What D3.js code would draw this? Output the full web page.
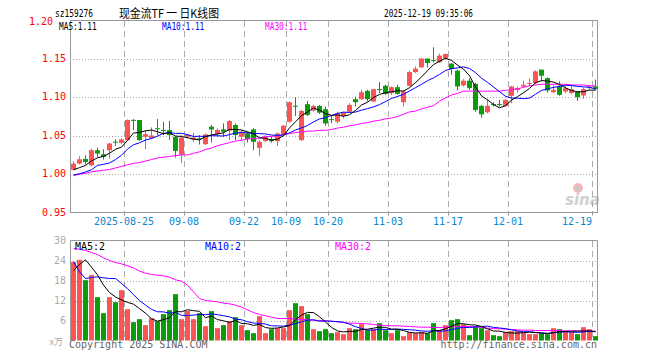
<!DOCTYPE html>
<html>
<head>
<meta charset="utf-8">
<script src="https://cdn.jsdelivr.net/npm/d3@7"></script>
<style>
  body { margin: 0; background: #fff; }
  svg { display: block; }
</style>
</head>
<body>
<div id="chart"></div>
<script>
// Trading days shown on the chart
const dates = [
  "2025-08-12","2025-08-13","2025-08-14","2025-08-15","2025-08-18","2025-08-19","2025-08-20","2025-08-21","2025-08-22",
  "2025-08-25","2025-08-26","2025-08-27","2025-08-28","2025-08-29",
  "2025-09-01","2025-09-02","2025-09-03","2025-09-04","2025-09-05",
  "2025-09-08","2025-09-09","2025-09-10","2025-09-11","2025-09-12",
  "2025-09-15","2025-09-16","2025-09-17","2025-09-18","2025-09-19",
  "2025-09-22","2025-09-23","2025-09-24","2025-09-25","2025-09-26",
  "2025-09-29","2025-09-30",
  "2025-10-09","2025-10-10",
  "2025-10-13","2025-10-14","2025-10-15","2025-10-16","2025-10-17",
  "2025-10-20","2025-10-21","2025-10-22","2025-10-23","2025-10-24",
  "2025-10-27","2025-10-28","2025-10-29","2025-10-30","2025-10-31",
  "2025-11-03","2025-11-04","2025-11-05","2025-11-06","2025-11-07",
  "2025-11-10","2025-11-11","2025-11-12","2025-11-13","2025-11-14",
  "2025-11-17","2025-11-18","2025-11-19","2025-11-20","2025-11-21",
  "2025-11-24","2025-11-25","2025-11-26","2025-11-27","2025-11-28",
  "2025-12-01","2025-12-02","2025-12-03","2025-12-04","2025-12-05",
  "2025-12-08","2025-12-09","2025-12-10","2025-12-11","2025-12-12",
  "2025-12-15","2025-12-16","2025-12-17","2025-12-18","2025-12-19"
];

const opens = [
  1.0057,1.0136,1.0197,1.0114,1.0311,1.0258,1.0311,1.0422,1.0407,1.0442,
  1.0706,1.0704,1.0486,1.0468,1.0597,1.0575,1.0573,1.0486,1.0254,1.0486,
  1.0451,1.0466,1.0390,1.0617,1.0521,1.0582,1.0564,1.0639,1.0486,1.0529,
  1.0582,1.0342,1.0429,1.0455,1.0429,1.0521,1.0682,1.0890,1.0442,1.0910,
  1.0827,1.0888,1.0844,1.0715,1.0682,1.0757,1.0813,1.0975,1.0975,1.1084,
  1.0945,1.1108,1.1150,1.1054,1.1132,1.0936,1.1150,1.1329,1.1390,1.1504,
  1.1484,1.1456,1.1504,1.1438,1.1347,1.1154,1.1216,1.1176,1.0888,1.0805,
  1.0912,1.0912,1.0888,1.1019,1.1097,1.1141,1.1183,1.1185,1.1360,1.1250,
  1.1067,1.1141,1.1076,1.1054,1.1076,1.1023,1.1119,1.1141
];
const highs = [
  1.0167,1.0232,1.0245,1.0333,1.0342,1.0324,1.0407,1.0455,1.0464,1.0713,
  1.0717,1.0706,1.0573,1.0608,1.0717,1.0682,1.0691,1.0490,1.0508,1.0521,
  1.0538,1.0508,1.0529,1.0639,1.0595,1.0660,1.0704,1.0660,1.0573,1.0551,
  1.0595,1.0442,1.0508,1.0486,1.0542,1.0639,1.0945,1.1001,1.0835,1.0953,
  1.0901,1.0901,1.0879,1.0770,1.0813,1.0813,1.0923,1.1010,1.1097,1.1097,
  1.1106,1.1198,1.1163,1.1141,1.1163,1.1097,1.1347,1.1403,1.1513,1.1504,
  1.1652,1.1569,1.1569,1.1447,1.1360,1.1237,1.1250,1.1185,1.0901,1.0975,
  1.0936,1.0967,1.0975,1.1150,1.1141,1.1216,1.1242,1.1351,1.1360,1.1259,
  1.1154,1.1207,1.1150,1.1150,1.1076,1.1128,1.1154,1.1229
];
const lows = [
  1.0049,1.0127,1.0127,1.0101,1.0224,1.0189,1.0202,1.0368,1.0390,1.0433,
  1.0573,1.0433,1.0324,1.0455,1.0508,1.0508,1.0442,1.0215,1.0145,1.0464,
  1.0420,1.0385,1.0377,1.0411,1.0486,1.0486,1.0442,1.0442,1.0442,1.0411,
  1.0311,1.0237,1.0420,1.0411,1.0368,1.0508,1.0669,1.0757,1.0433,1.0757,
  1.0813,1.0783,1.0630,1.0660,1.0660,1.0726,1.0800,1.0879,1.0967,1.0945,
  1.0936,1.1054,1.1032,1.1032,1.1032,1.0879,1.1141,1.1316,1.1382,1.1390,
  1.1456,1.1447,1.1491,1.1294,1.1089,1.1141,1.1097,1.0813,1.0735,1.0792,
  1.0879,1.0879,1.0879,1.0923,1.1063,1.1128,1.1150,1.1172,1.1207,1.1063,
  1.1054,1.1019,1.1054,1.1045,1.0953,1.0980,1.1097,1.1097
];
const closes = [
  1.0136,1.0193,1.0158,1.0311,1.0267,1.0224,1.0398,1.0418,1.0451,1.0704,
  1.0700,1.0442,1.0521,1.0503,1.0593,1.0571,1.0508,1.0302,1.0477,1.0512,
  1.0477,1.0462,1.0516,1.0582,1.0573,1.0551,1.0691,1.0508,1.0551,1.0455,
  1.0420,1.0420,1.0486,1.0429,1.0529,1.0630,1.0936,1.0886,1.0822,1.0770,
  1.0888,1.0800,1.0660,1.0711,1.0792,1.0800,1.0901,1.0936,1.1067,1.0975,
  1.1106,1.1104,1.1045,1.1132,1.1045,1.1076,1.1329,1.1373,1.1504,1.1447,
  1.1480,1.1543,1.1565,1.1368,1.1141,1.1216,1.1119,1.0835,1.0778,1.0888,
  1.0908,1.0908,1.0967,1.1141,1.1119,1.1163,1.1187,1.1338,1.1281,1.1089,
  1.1097,1.1032,1.1119,1.1106,1.1001,1.1106,1.1141,1.1106
];

// Moving averages before enough days are on screen
const ma5Lead = [1.0057, 1.0084, 1.0114, 1.0171];
const ma10Lead = [0.9988, 1.0005, 1.0027, 1.0057, 1.0114, 1.0127, 1.0145, 1.0189, 1.0245];
const ma30 = [
  0.998,1.000,1.001,1.003,1.004,1.005,1.006,1.008,1.010,1.012,
  1.014,1.015,1.017,1.019,1.021,1.022,1.023,1.024,1.025,1.025,
  1.027,1.029,1.032,1.034,1.037,1.039,1.041,1.043,1.044,1.046,
  1.046,1.047,1.049,1.049,1.050,1.051,1.053,1.054,1.055,1.056,
  1.056,1.057,1.057,1.058,1.060,1.061,1.063,1.064,1.066,1.067,
  1.069,1.070,1.072,1.073,1.075,1.078,1.081,1.082,1.085,1.087,
  1.089,1.095,1.099,1.103,1.105,1.108,1.108,1.108,1.108,1.108,
  1.108,1.108,1.109,1.110,1.111,1.113,1.115,1.116,1.117,1.117,
  1.117,1.117,1.117,1.116,1.116,1.116,1.115,1.115
];

// Volume, in 万
const volumes = [
  23.6,24.2,18.1,19.6,13.0,8.2,13.0,11.5,15.1,9.4,
  5.5,6.4,4.6,6.7,5.8,7.9,9.1,13.9,6.4,8.9,
  6.4,8.2,4.3,8.8,3.7,4.6,5.8,7.0,4.6,3.1,
  2.2,7.3,2.2,3.4,3.7,3.7,9.1,11.2,10.3,7.9,
  3.4,2.8,3.4,2.2,2.5,1.9,3.7,3.4,4.9,3.1,
  3.4,5.2,3.1,2.2,3.1,1.3,2.5,2.2,2.5,2.2,
  5.2,3.1,4.6,6.1,6.4,4.9,1.6,4.3,3.7,3.1,
  1.6,1.3,2.5,2.8,2.8,2.5,1.9,1.9,2.2,1.9,
  3.7,3.4,2.5,2.5,1.9,4.0,3.4,1.3
];
const volMa5Lead = [21.0, 22.8, 24.2, 22.0];
const volMa10Lead = [23.6, 20.6, 18.6, 18.9, 19.1, 18.8, 18.6, 18.6, 17.1];
const volMa30 = [
  27.6,27.4,27.0,26.4,25.8,24.8,24.0,23.4,23.0,22.4,
  21.8,20.8,20.2,19.8,19.6,19.4,19.0,18.2,17.8,16.6,
  14.6,12.6,12.0,11.8,11.6,11.2,11.0,10.6,10.0,9.2,
  8.4,7.8,7.4,7.0,6.6,6.6,6.6,6.4,6.4,6.2,
  6.1,6.0,5.9,5.8,5.6,5.4,5.2,5.2,5.1,5.0,
  4.8,4.6,4.5,4.4,4.4,4.3,4.2,4.1,4.0,4.0,
  3.9,3.9,4.0,4.1,4.2,4.2,4.2,4.1,3.9,3.7,
  3.6,3.5,3.4,3.3,3.2,3.1,3.1,3.0,3.0,3.0,
  3.0,3.0,2.9,2.9,2.9,2.9,2.9,2.8
];

// Axis ticks and labels
const tickDates = ["2025-08-25","2025-09-08","2025-09-22","2025-10-09","2025-10-20","2025-11-03","2025-11-17","2025-12-01","2025-12-19"];
const tickLabels = ["2025-08-25","09-08","09-22","10-09","10-20","11-03","11-17","12-01","12-19"];
const priceTicks = [1.20, 1.15, 1.10, 1.05, 1.00, 0.95];
const volTicks = [30, 24, 18, 12, 6];
const priceLegend = ["MA5:1.11", "MA10:1.11", "MA30:1.11"];
const volLegend = ["MA5:2", "MA10:2", "MA30:2"];

const mono = "'DejaVu Sans Mono', monospace";
const red = "#fb5454", green = "#0b9b0b";
const gridColor = "#aaa", borderColor = "#999";

// rolling mean, with the read-off values for the first days
function movingAvg(values, n, lead) {
    return values.map((v, i) => i < n - 1 ? lead[i] : d3.mean(values.slice(i - n + 1, i + 1)));
}
const ma5 = movingAvg(closes, 5, ma5Lead);
const ma10 = movingAvg(closes, 10, ma10Lead);
const volMa5 = movingAvg(volumes, 5, volMa5Lead);
const volMa10 = movingAvg(volumes, 10, volMa10Lead);

const svg = d3.select("#chart").append("svg")
    .attr("width", 660)
    .attr("height", 360);

// Scales
const left = 70, right = 598;
const x = d3.scaleBand().domain(dates).range([left, right]);
const cx = (d) => x(d) + 3.5;
const yP = d3.scaleLinear().domain([0.95, 1.20]).range([212.5, 20.5]);
const yV = d3.scaleLinear().domain([0, 30]).range([340.5, 240.5]);

// Header
svg.append("text").attr("x", 55).attr("y", 17)
    .style("font-family", mono).style("font-size", "10px")
    .attr("textLength", 38).attr("lengthAdjust", "spacingAndGlyphs")
    .text("sz159276");
svg.append("text").attr("x", 119).attr("y", 18)
    .style("font-family", "'Noto Sans CJK SC', sans-serif").style("font-size", "12px")
    .attr("textLength", 100).attr("lengthAdjust", "spacingAndGlyphs")
    .text("现金流TF 一 日K线图");
svg.append("text").attr("x", 473).attr("y", 17).attr("text-anchor", "end")
    .style("font-family", mono).style("font-size", "10px")
    .attr("textLength", 89).attr("lengthAdjust", "spacingAndGlyphs")
    .text("2025-12-19 09:35:06");

// Watermark
const wm = svg.append("g").attr("opacity", 0.55);
wm.append("circle").attr("cx", 578).attr("cy", 188).attr("r", 5).attr("fill", "#f08080");
wm.append("circle").attr("cx", 578).attr("cy", 189).attr("r", 2.5).attr("fill", "#999");
wm.append("text").attr("x", 565).attr("y", 205)
    .style("font-family", "'DejaVu Sans', sans-serif").style("font-size", "15px")
    .style("font-style", "italic").style("font-weight", "bold")
    .attr("fill", "#aaa").text("sina");

// Gridlines
function grid(g, y0, y1, yScale, ticks) {
    g.selectAll(".vgrid").data(tickDates).enter().append("line")
        .attr("x1", (d) => x(d) + 0.5).attr("x2", (d) => x(d) + 0.5)
        .attr("y1", y0).attr("y2", y1)
        .attr("stroke", gridColor).attr("stroke-dasharray", "6,4");
    g.selectAll(".hgrid").data(ticks).enter().append("line")
        .attr("x1", left).attr("x2", right - 1)
        .attr("y1", (d) => Math.round(yScale(d)) + 0.5).attr("y2", (d) => Math.round(yScale(d)) + 0.5)
        .attr("stroke", gridColor).attr("stroke-dasharray", "1,2");
}
grid(svg.append("g"), 21, 212, yP, [1.15, 1.10, 1.05, 1.00]);
grid(svg.append("g"), 241, 340, yV, [24, 18, 12, 6]);

// Frames
svg.append("rect").attr("x", left + 0.5).attr("y", 20.5)
    .attr("width", right - left - 1).attr("height", 192)
    .attr("fill", "none").attr("stroke", borderColor);
svg.append("path")
    .attr("d", `M${left + 0.5},340.5V240.5H${right - 0.5}V340.5`)
    .attr("fill", "none").attr("stroke", borderColor);

// Bottom tick marks
svg.selectAll(".xtick").data(tickDates).enter().append("line")
    .attr("x1", (d) => x(d) + 0.5).attr("x2", (d) => x(d) + 0.5)
    .attr("y1", 212.5).attr("y2", 215.5)
    .attr("stroke", borderColor);

// Price axis labels (the top one sits further left, clear of the header)
svg.selectAll(".ylab").data(priceTicks).enter().append("text")
    .attr("x", (d, i) => i === 0 ? 53 : 66)
    .attr("y", (d, i) => i === 0 ? yP(d) + 1 : yP(d))
    .attr("text-anchor", "end").attr("dominant-baseline", "middle")
    .style("font-family", mono).style("font-size", "10px")
    .attr("fill", "#f00")
    .text((d) => d.toFixed(2));

// Date labels
svg.selectAll(".xlab").data(tickDates).enter().append("text")
    .attr("x", (d) => x(d))
    .attr("y", 225)
    .attr("text-anchor", (d, i) => i === tickDates.length - 1 ? "end" : "middle")
    .style("font-family", mono).style("font-size", "10px")
    .attr("fill", "#0a86d0")
    .text((d, i) => tickLabels[i]);

// Volume axis labels
svg.selectAll(".vlab").data(volTicks).enter().append("text")
    .attr("x", 66).attr("y", (d) => yV(d))
    .attr("text-anchor", "end").attr("dominant-baseline", "middle")
    .style("font-family", mono).style("font-size", "10px")
    .attr("fill", "#aaa")
    .text((d) => d);
svg.append("text").attr("x", 63).attr("y", 345).attr("text-anchor", "end")
    .style("font-family", "'Noto Sans CJK SC', sans-serif").style("font-size", "9px")
    .attr("fill", "#aaa").text("x万");

// Candles
const candles = svg.append("g").selectAll("g").data(dates).enter().append("g");
candles.append("line")
    .attr("x1", cx).attr("x2", cx)
    .attr("y1", (d, i) => yP(highs[i])).attr("y2", (d, i) => yP(lows[i]))
    .attr("stroke", (d, i) => closes[i] >= opens[i] ? red : green);
candles.append("rect")
    .attr("x", (d) => x(d) + 1).attr("width", 5)
    .attr("y", (d, i) => yP(Math.max(opens[i], closes[i])))
    .attr("height", (d, i) => Math.max(1, yP(Math.min(opens[i], closes[i])) - yP(Math.max(opens[i], closes[i]))))
    .attr("fill", (d, i) => closes[i] >= opens[i] ? red : green);

// Volume bars
svg.append("g").selectAll("rect").data(dates).enter().append("rect")
    .attr("x", (d) => x(d) + 1).attr("width", 5)
    .attr("y", (d, i) => yV(volumes[i]))
    .attr("height", (d, i) => yV(0) - yV(volumes[i]))
    .attr("fill", (d, i) => closes[i] >= opens[i] ? red : green);

// Moving average lines
function maLine(values, yScale, color) {
    const line = d3.line().x((d, i) => cx(dates[i])).y((d) => yScale(d));
    svg.append("path").datum(values)
        .attr("d", line)
        .attr("fill", "none").attr("stroke", color).attr("stroke-width", 1);
}
maLine(ma30, yP, "#f0f");
maLine(ma10, yP, "#00f");
maLine(ma5, yP, "#000");
maLine(volMa30, yV, "#f0f");
maLine(volMa10, yV, "#00f");
maLine(volMa5, yV, "#000");

// Legends
const legendColors = ["#000", "#00f", "#f0f"];
svg.selectAll(".plegend").data(priceLegend).enter().append("text")
    .attr("x", (d, i) => [59, 162, 265][i]).attr("y", 30)
    .style("font-family", mono).style("font-size", "10px")
    .attr("textLength", (d) => d.length * 4.7).attr("lengthAdjust", "spacingAndGlyphs")
    .attr("fill", (d, i) => legendColors[i])
    .text((d) => d);
svg.selectAll(".vlegend").data(volLegend).enter().append("text")
    .attr("x", (d, i) => [75, 205, 335][i]).attr("y", 250)
    .style("font-family", mono).style("font-size", "10px")
    .attr("fill", (d, i) => legendColors[i])
    .text((d) => d);

// Footer
svg.append("text").attr("x", 69).attr("y", 348)
    .style("font-family", mono).style("font-size", "10px")
    .attr("fill", "#666").text("Copyright 2025 SINA.COM");
svg.append("text").attr("x", 597).attr("y", 348).attr("text-anchor", "end")
    .style("font-family", mono).style("font-size", "10px")
    .attr("fill", "#666").text("http://finance.sina.com.cn");
</script>
</body>
</html>
